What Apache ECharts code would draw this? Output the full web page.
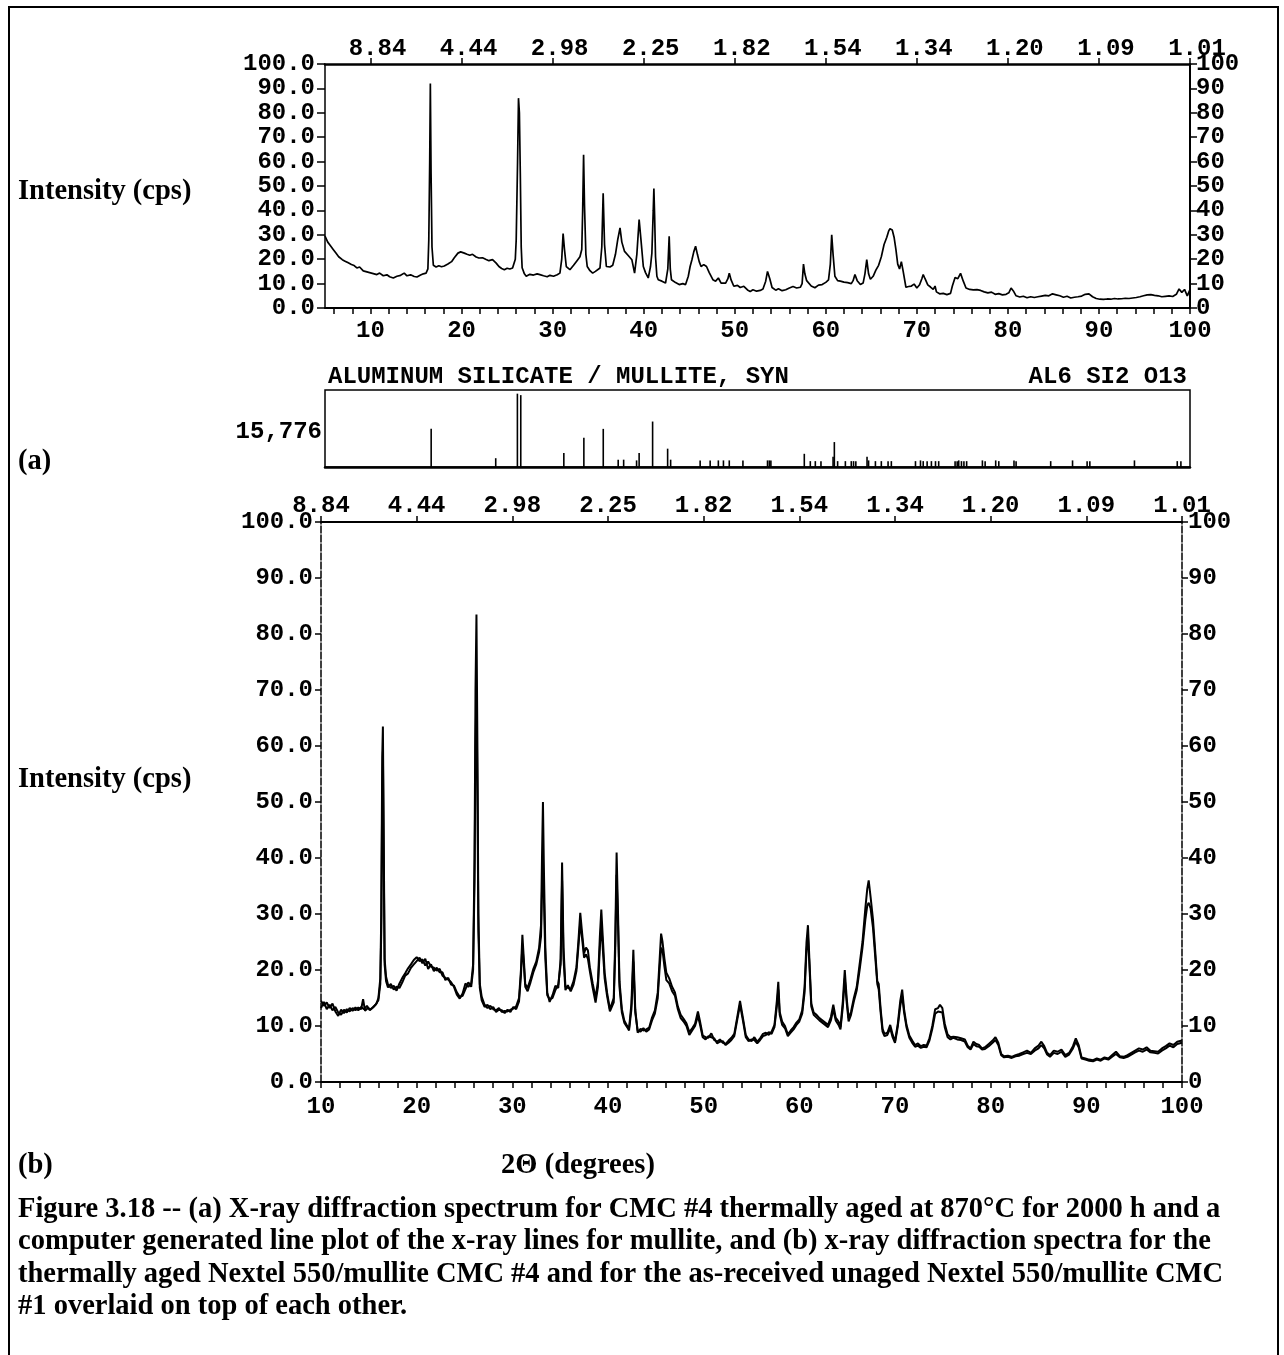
<!DOCTYPE html>
<html><head><meta charset="utf-8">
<script src="https://cdn.jsdelivr.net/npm/echarts@6/dist/echarts.min.js"></script>
<style>html,body{margin:0;padding:0;background:#fff}#c{width:1284px;height:1355px}</style>
</head><body><div id="c"></div>
<script>
// ---- tick labels ----
var majorX = [10,20,30,40,50,60,70,80,90,100];
var dLabels = ['8.84','4.44','2.98','2.25','1.82','1.54','1.34','1.20','1.09','1.01'];
var minorTopX = [6,8,10,12,14,16,18,20,22,24,26,28,30,32,34,36,38,40,42,44,46,48,50,52,54,56,58,60,62,64,66,68,70,72,74,76,78,80,82,84,86,88,90,92,94,96,98,100];
var minorBotX = [10,12,14,16,18,20,22,24,26,28,30,32,34,36,38,40,42,44,46,48,50,52,54,56,58,60,62,64,66,68,70,72,74,76,78,80,82,84,86,88,90,92,94,96,98,100];

// ---- (a) spectrum, CMC #4 aged ----
var specA = [[5.0,29.5],[5.3,27],[5.6,25.5],[5.9,24],[6.2,22.5],[6.5,21],[6.9,19.8],[7.2,19.2],[7.5,18.6],[7.9,17.8],[8.2,17.4],[8.5,16.4],[8.8,16.8],[9.2,15.2],[9.6,14.8],[10.0,14.4],[10.4,14.0],[10.7,13.7],[11.0,14.3],[11.4,13.2],[11.8,13.6],[12.1,12.8],[12.5,12.3],[12.9,13.0],[13.3,13.4],[13.7,14.3],[14.0,13.2],[14.4,13.6],[14.8,12.9],[15.1,12.7],[15.5,13.5],[15.8,14.0],[16.1,14.3],[16.3,16],[16.4,28],[16.5,60],[16.57,92],[16.65,55],[16.75,25],[16.9,17.5],[17.2,16.8],[17.5,17.3],[17.8,16.9],[18.1,17.2],[18.5,18.0],[18.9,19.0],[19.2,20.6],[19.6,22.5],[19.9,23.0],[20.3,22.5],[20.6,22.0],[20.9,21.6],[21.2,22.0],[21.6,20.9],[21.9,20.5],[22.3,20.6],[22.7,19.9],[23.0,19.4],[23.4,19.8],[23.8,18.4],[24.1,17.0],[24.4,16.2],[24.7,15.7],[25.0,16.3],[25.3,16.0],[25.6,16.4],[25.9,20],[26.0,28],[26.15,60],[26.25,86],[26.35,80],[26.45,55],[26.55,25],[26.65,16.5],[26.9,14.0],[27.1,13.0],[27.5,13.8],[27.9,13.5],[28.3,14.0],[28.6,13.7],[29.0,13.2],[29.4,12.8],[29.7,13.4],[30.1,13.0],[30.5,13.6],[30.8,14.3],[31.0,20],[31.15,30.5],[31.3,24],[31.5,17],[31.9,15.7],[32.3,17.5],[32.7,19.5],[33.0,21.0],[33.2,24],[33.3,40],[33.4,62.8],[33.5,42],[33.65,22],[33.8,17],[34.1,15.3],[34.4,14.3],[34.7,15.0],[34.9,15.7],[35.2,16.4],[35.4,25],[35.55,47],[35.7,26],[35.9,17],[36.3,16.8],[36.6,17.5],[36.9,22],[37.15,28],[37.4,32.8],[37.6,27],[37.9,23.2],[38.3,21.5],[38.7,19.8],[39.0,14.3],[39.25,22],[39.5,36.2],[39.7,28],[39.96,17],[40.2,14.5],[40.5,12.3],[40.75,17],[40.9,22.5],[41.05,40],[41.12,49],[41.2,38],[41.3,21],[41.45,13],[41.6,11.6],[42.0,11.0],[42.4,10.2],[42.65,16],[42.8,29.4],[42.92,16],[43.05,11.6],[43.5,10.4],[43.9,9.6],[44.3,10.0],[44.6,9.6],[44.9,13],[45.1,17],[45.3,19.8],[45.5,23],[45.7,25.3],[45.9,22],[46.1,19],[46.3,17],[46.6,17.8],[46.9,17],[47.2,14.5],[47.6,11.6],[47.9,11.0],[48.2,12.3],[48.5,10.2],[48.7,9.6],[49.0,10.2],[49.25,12],[49.4,14.3],[49.6,11.5],[49.9,8.9],[50.3,9.3],[50.6,8.4],[51.0,8.9],[51.4,7.4],[51.7,6.8],[52.0,7.5],[52.4,6.9],[52.8,7.2],[53.1,7.8],[53.4,11],[53.6,15],[53.85,12],[54.1,8.4],[54.5,7.3],[54.8,7.9],[55.2,7.1],[55.6,7.5],[56.0,8.2],[56.4,8.8],[56.8,8.2],[57.2,8.5],[57.4,10],[57.55,18],[57.7,14],[57.9,11.2],[58.1,12],[58.4,9.0],[58.8,8.3],[59.2,9.4],[59.6,9.6],[60.0,10.5],[60.3,11.5],[60.5,18],[60.65,30],[60.8,22],[61.0,13],[61.3,11.2],[61.6,11.0],[62.0,10.6],[62.4,10.4],[62.8,10.0],[63.0,11.2],[63.2,13.7],[63.45,11.2],[63.8,9.6],[64.1,10.2],[64.3,14],[64.5,19.8],[64.7,14],[64.9,11.8],[65.2,13],[65.5,15.5],[65.8,17.5],[66.1,21],[66.4,26],[66.7,29],[66.9,31.5],[67.05,32.5],[67.3,32],[67.5,29],[67.7,24],[67.9,18],[68.1,16],[68.3,19],[68.5,15],[68.8,8.5],[69.1,8.8],[69.4,9.0],[69.7,9.8],[70.0,8.2],[70.3,9.5],[70.55,12],[70.7,13.7],[70.9,12],[71.2,9.5],[71.5,8.6],[71.8,7.6],[72.0,9.0],[72.15,6.6],[72.5,5.8],[72.9,6.0],[73.3,5.5],[73.7,6.0],[73.9,9],[74.2,12.5],[74.5,12.0],[74.8,14.2],[75.1,11.0],[75.4,8.2],[75.8,7.6],[76.2,7.4],[76.6,7.5],[77.0,7.2],[77.4,6.6],[77.8,6.2],[78.2,6.5],[78.6,5.6],[79.0,5.9],[79.4,5.4],[79.8,5.6],[80.1,6.2],[80.35,8.2],[80.6,7.0],[80.9,5.0],[81.3,4.5],[81.7,4.8],[82.1,4.2],[82.5,4.6],[82.9,4.3],[83.3,4.6],[83.7,4.9],[84.1,5.2],[84.5,5.0],[84.9,5.8],[85.3,5.4],[85.7,5.0],[86.1,4.4],[86.5,4.8],[86.9,4.1],[87.3,4.4],[87.7,4.6],[88.1,4.9],[88.5,5.6],[88.9,5.8],[89.3,4.6],[89.7,3.9],[90.1,3.6],[90.5,3.5],[90.9,3.7],[91.3,3.6],[91.7,3.9],[92.1,3.7],[92.5,3.8],[92.9,4.0],[93.3,3.9],[93.7,4.1],[94.1,4.3],[94.5,4.6],[94.9,5.0],[95.3,5.4],[95.7,5.5],[96.1,5.2],[96.5,5.0],[96.9,4.6],[97.3,4.8],[97.7,5.0],[98.1,4.7],[98.5,5.6],[98.8,7.8],[99.1,6.4],[99.4,7.6],[99.7,5.0],[100.0,7.5]];

// ---- mullite reference line pattern ----
var stickPos = [16.66,23.75,26.13,26.5,31.23,33.43,35.56,37.2,37.8,39.22,39.5,40.98,42.63,42.96,46.2,47.3,48.2,48.76,49.4,50.9,53.6,53.8,53.97,57.64,58.3,58.85,59.47,60.8,60.94,61.3,62.15,62.8,63.05,63.3,64.53,64.7,65.45,66.1,66.84,67.2,69.85,70.4,70.7,71.13,71.6,72.05,72.4,74.2,74.43,74.6,74.9,75.17,75.47,77.2,77.5,78.66,79.0,80.67,80.9,84.7,87.1,88.7,89.0,93.9,98.6,99.0];
var stickH = [52,12,100,98,19,40,52,10,10,9,19,62,25,10,9,9,9,9,9,9,9,9,9,18,8,8,8,14,34,8,8,8,8,8,14,9,8,8,8,8,8,9,8,8,8,8,8,8,8,9,8,8,8,9,8,9,8,9,8,8,9,8,8,9,8,8];

// ---- (b) spectra: aged CMC #4 and as-received CMC #1 ----
var specB4 = [[10.0,14.5],[10.3,13.6],[10.6,14.2],[10.9,13.2],[11.2,14.0],[11.5,12.6],[11.8,11.8],[12.1,12.9],[12.4,12.3],[12.7,13.0],[13.0,12.6],[13.3,13.2],[13.6,12.8],[13.9,13.3],[14.2,13.0],[14.4,14.8],[14.6,12.7],[14.9,13.2],[15.2,13.0],[15.5,13.4],[15.8,14.0],[16.0,15.0],[16.2,18.5],[16.3,30],[16.4,58],[16.47,63.5],[16.55,45],[16.65,22],[16.8,18.8],[17.0,17.4],[17.3,16.8],[17.6,17.2],[17.9,16.3],[18.2,17.6],[18.5,18.6],[18.8,19.4],[19.1,20.3],[19.4,21.0],[19.7,21.8],[20.0,22.3],[20.3,21.6],[20.6,21.9],[20.9,20.8],[21.2,21.5],[21.5,20.6],[21.8,20.4],[22.1,19.9],[22.4,20.2],[22.7,19.0],[23.0,18.6],[23.3,18.3],[23.6,17.8],[23.9,17.0],[24.2,15.6],[24.5,14.9],[24.8,15.8],[25.1,17.6],[25.4,17.0],[25.7,17.6],[25.9,21],[26.05,40],[26.15,70],[26.25,83.5],[26.35,60],[26.45,30],[26.6,17.5],[26.8,15.2],[27.1,13.8],[27.4,13.2],[27.7,13.6],[28.0,13.0],[28.3,12.8],[28.6,13.2],[28.9,12.5],[29.2,12.7],[29.5,12.6],[29.8,12.9],[30.1,13.1],[30.4,13.5],[30.7,15.0],[30.9,20],[31.05,26.3],[31.2,22],[31.35,17.5],[31.6,16.8],[31.9,18.4],[32.2,20.2],[32.5,21.5],[32.8,24.0],[33.0,28],[33.1,40],[33.2,50],[33.3,38],[33.45,24],[33.65,16],[33.9,14.3],[34.2,15.5],[34.5,17.2],[34.8,16.8],[35.05,22],[35.2,39.2],[35.35,24],[35.55,17.0],[35.8,16.8],[36.1,16.6],[36.4,18.0],[36.7,20.5],[36.9,25],[37.1,30.2],[37.3,26.5],[37.5,23.0],[37.7,24.0],[37.9,23.5],[38.1,20.5],[38.4,17.6],[38.7,15.0],[38.95,18],[39.15,26],[39.3,30.8],[39.45,26],[39.65,19.5],[39.9,16],[40.2,13],[40.4,12.8],[40.6,15],[40.75,25],[40.9,41],[41.05,30],[41.2,18],[41.45,13],[41.7,11],[42.0,10],[42.2,9.6],[42.45,14],[42.65,23.6],[42.85,13],[43.1,8.8],[43.4,9.5],[43.7,9.2],[44.0,9.4],[44.3,9.7],[44.6,11.5],[44.9,12.8],[45.2,16],[45.4,22],[45.55,26.5],[45.7,25],[45.9,22],[46.1,19.5],[46.4,18.5],[46.7,17.0],[47.0,16.0],[47.3,13.5],[47.6,12.0],[47.9,11.3],[48.2,10.5],[48.5,8.9],[48.8,9.6],[49.1,10.4],[49.4,12.6],[49.6,11],[49.9,8.3],[50.2,8.0],[50.5,7.9],[50.8,8.7],[51.1,7.5],[51.4,7.2],[51.7,7.6],[52.0,7.0],[52.3,6.8],[52.6,7.4],[52.9,7.9],[53.2,8.6],[53.5,11.5],[53.8,14.5],[54.1,11.5],[54.4,8.4],[54.7,7.6],[55.0,7.3],[55.3,8.0],[55.6,7.2],[55.9,7.8],[56.2,8.6],[56.5,8.8],[56.8,8.4],[57.1,9.0],[57.4,10.2],[57.65,14.5],[57.8,17.9],[57.95,12.5],[58.2,10.8],[58.5,10.0],[58.8,8.5],[59.1,9.2],[59.4,9.8],[59.7,10.6],[60.0,11.2],[60.3,12.8],[60.55,17],[60.75,25],[60.9,28],[61.05,22],[61.25,14],[61.5,12.4],[61.8,12.0],[62.1,11.4],[62.4,11.0],[62.7,10.6],[63.0,10.2],[63.3,11.6],[63.55,13.8],[63.8,11.5],[64.1,10.8],[64.3,9.8],[64.55,14.5],[64.75,20],[64.95,15],[65.15,11.4],[65.4,12.5],[65.7,15.0],[66.0,17.0],[66.3,21],[66.6,25],[66.9,31],[67.1,34.5],[67.25,36],[67.45,33],[67.7,29],[67.95,23],[68.15,18],[68.3,17.5],[68.5,13],[68.7,9.5],[68.9,8.6],[69.2,8.8],[69.5,10.2],[69.75,8.5],[70.0,7.2],[70.3,10.5],[70.55,14.5],[70.75,16.5],[70.95,13],[71.2,10.2],[71.5,8.3],[71.8,7.4],[72.1,6.6],[72.4,6.9],[72.7,6.4],[73.0,6.6],[73.3,6.5],[73.6,7.8],[73.9,10.0],[74.2,13.0],[74.5,13.2],[74.7,13.8],[74.95,13.2],[75.2,10.4],[75.5,8.5],[75.8,8.0],[76.1,8.1],[76.5,8.0],[76.9,7.8],[77.3,7.6],[77.6,6.5],[77.9,6.0],[78.2,7.2],[78.5,6.8],[78.8,6.6],[79.1,6.0],[79.4,6.2],[79.8,6.8],[80.2,7.4],[80.5,8.0],[80.8,7.0],[81.1,5.0],[81.4,4.6],[81.8,4.7],[82.2,4.5],[82.6,4.8],[83.0,5.0],[83.4,5.3],[83.8,5.6],[84.2,5.2],[84.6,6.0],[85.0,6.5],[85.3,7.2],[85.6,6.4],[85.9,5.2],[86.2,4.8],[86.6,5.6],[87.0,5.4],[87.4,5.8],[87.8,4.8],[88.2,5.2],[88.6,6.4],[88.9,7.8],[89.2,6.6],[89.5,4.4],[89.9,4.2],[90.3,4.0],[90.7,3.9],[91.1,4.2],[91.5,4.0],[91.9,4.4],[92.3,4.2],[92.7,4.8],[93.1,5.4],[93.5,4.6],[93.9,4.5],[94.3,4.8],[94.7,5.2],[95.1,5.6],[95.5,6.0],[95.9,5.8],[96.3,6.2],[96.7,5.6],[97.1,5.5],[97.5,5.4],[97.9,6.0],[98.3,6.4],[98.7,6.9],[99.1,6.6],[99.5,7.2],[100.0,7.4]];
var specB1 = [[10.0,13.2],[10.3,14.3],[10.6,13.0],[10.9,13.8],[11.2,12.8],[11.5,13.4],[11.8,12.4],[12.1,12.0],[12.4,12.9],[12.7,12.4],[13.0,13.2],[13.3,12.7],[13.6,13.3],[13.9,12.8],[14.2,13.4],[14.5,13.0],[14.8,13.6],[15.1,12.8],[15.4,13.3],[15.7,13.8],[16.0,14.6],[16.2,17.5],[16.3,27],[16.4,52],[16.47,59],[16.55,41],[16.65,21],[16.8,18.0],[17.0,16.9],[17.3,17.5],[17.6,16.5],[17.9,17.0],[18.2,16.8],[18.5,17.8],[18.8,19.0],[19.1,19.4],[19.4,20.4],[19.7,21.0],[20.0,21.6],[20.3,22.2],[20.6,21.2],[20.9,22.0],[21.2,20.2],[21.5,21.0],[21.8,19.8],[22.1,20.4],[22.4,19.6],[22.7,19.6],[23.0,18.2],[23.3,18.6],[23.6,17.4],[23.9,17.2],[24.2,16.0],[24.5,15.2],[24.8,15.4],[25.1,16.6],[25.4,17.8],[25.7,17.0],[25.9,20],[26.05,36],[26.15,60],[26.25,70],[26.35,52],[26.45,27],[26.6,16.8],[26.8,14.6],[27.1,13.4],[27.4,13.8],[27.7,13.0],[28.0,13.4],[28.3,12.5],[28.6,12.9],[28.9,12.8],[29.2,12.3],[29.5,12.9],[29.8,12.5],[30.1,13.4],[30.4,13.0],[30.7,14.4],[30.9,19],[31.05,24.5],[31.2,21],[31.35,17],[31.6,16.2],[31.9,17.8],[32.2,19.6],[32.5,21.0],[32.8,23.2],[33.0,26],[33.1,34],[33.2,40],[33.3,33],[33.45,22],[33.65,15.5],[33.9,14.8],[34.2,15.0],[34.5,16.4],[34.8,17.4],[35.05,21],[35.2,36],[35.35,22],[35.55,16.4],[35.8,17.3],[36.1,16.2],[36.4,17.4],[36.7,19.8],[36.9,24],[37.1,28.5],[37.3,25.5],[37.5,22.2],[37.7,22.8],[37.9,22.0],[38.1,19.8],[38.4,16.8],[38.7,14.2],[38.95,17],[39.15,24],[39.3,28.5],[39.45,24],[39.65,18.5],[39.9,15.4],[40.2,12.6],[40.4,12.4],[40.6,14.2],[40.75,23],[40.9,37],[41.05,28],[41.2,17],[41.45,12.4],[41.7,10.6],[42.0,9.8],[42.2,9.2],[42.45,13],[42.65,21.5],[42.85,12.4],[43.1,9.2],[43.4,9.0],[43.7,9.6],[44.0,9.0],[44.3,9.4],[44.6,11.0],[44.9,12.2],[45.2,15],[45.4,20.5],[45.55,24],[45.7,23.5],[45.9,20.6],[46.1,18.2],[46.4,17.6],[46.7,16.2],[47.0,15.4],[47.3,13.0],[47.6,11.4],[47.9,10.8],[48.2,10.0],[48.5,8.4],[48.8,9.2],[49.1,10.0],[49.4,11.8],[49.6,10.4],[49.9,8.0],[50.2,7.6],[50.5,8.2],[50.8,8.0],[51.1,7.8],[51.4,6.9],[51.7,7.2],[52.0,7.3],[52.3,6.6],[52.6,7.0],[52.9,7.5],[53.2,8.2],[53.5,11.0],[53.8,13.8],[54.1,11.0],[54.4,8.0],[54.7,7.3],[55.0,7.6],[55.3,7.5],[55.6,6.9],[55.9,7.5],[56.2,8.2],[56.5,8.4],[56.8,8.9],[57.1,8.6],[57.4,9.8],[57.65,13.5],[57.8,16.5],[57.95,12.0],[58.2,10.2],[58.5,9.6],[58.8,8.2],[59.1,8.8],[59.4,9.4],[59.7,10.2],[60.0,10.8],[60.3,12.2],[60.55,16],[60.75,23.5],[60.9,26],[61.05,21],[61.25,13.5],[61.5,12.0],[61.8,11.5],[62.1,11.0],[62.4,10.6],[62.7,10.2],[63.0,9.8],[63.3,11.0],[63.55,13.0],[63.8,11.0],[64.1,10.2],[64.3,9.4],[64.55,13.5],[64.75,18.5],[64.95,14.2],[65.15,10.8],[65.4,12.0],[65.7,14.4],[66.0,16.4],[66.3,20],[66.6,24],[66.9,29],[67.1,31.5],[67.25,32],[67.45,31],[67.7,27.5],[67.95,22],[68.15,17.5],[68.3,16.5],[68.5,12.4],[68.7,9.0],[68.9,8.2],[69.2,8.4],[69.5,9.6],[69.75,8.0],[70.0,7.0],[70.3,10.0],[70.55,13.6],[70.75,15.4],[70.95,12.4],[71.2,9.8],[71.5,7.9],[71.8,7.0],[72.1,6.3],[72.4,6.5],[72.7,6.1],[73.0,6.3],[73.3,6.2],[73.6,7.4],[73.9,9.5],[74.2,12.2],[74.5,12.6],[74.7,12.8],[74.95,12.4],[75.2,9.8],[75.5,8.0],[75.8,7.6],[76.1,7.9],[76.5,7.6],[76.9,7.5],[77.3,7.2],[77.6,6.2],[77.9,5.8],[78.2,6.8],[78.5,6.4],[78.8,6.3],[79.1,5.8],[79.4,5.9],[79.8,6.4],[80.2,7.0],[80.5,7.5],[80.8,6.6],[81.1,4.8],[81.4,4.4],[81.8,4.5],[82.2,4.3],[82.6,4.6],[83.0,4.7],[83.4,5.0],[83.8,5.2],[84.2,5.0],[84.6,5.6],[85.0,6.0],[85.3,6.6],[85.6,6.0],[85.9,4.9],[86.2,4.5],[86.6,5.2],[87.0,5.0],[87.4,5.4],[87.8,4.5],[88.2,4.9],[88.6,6.0],[88.9,7.2],[89.2,6.2],[89.5,4.2],[89.9,4.0],[90.3,3.8],[90.7,3.7],[91.1,4.0],[91.5,3.8],[91.9,4.2],[92.3,4.0],[92.7,4.5],[93.1,5.0],[93.5,4.4],[93.9,4.3],[94.3,4.5],[94.7,4.9],[95.1,5.3],[95.5,5.6],[95.9,5.4],[96.3,5.8],[96.7,5.3],[97.1,5.2],[97.5,5.1],[97.9,5.6],[98.3,6.0],[98.7,6.5],[99.1,6.2],[99.5,6.8],[100.0,7.0]];

var MONO = '"Liberation Mono", "DejaVu Sans Mono", monospace';
var SERIF = '"Liberation Serif", "DejaVu Serif", serif';
var lab = {fontFamily: MONO, fontWeight: 'bold', fontSize: 24, color: '#000'};
function L(extra){ var o = {}; for (var k in lab) o[k]=lab[k]; for (var k2 in extra) o[k2]=extra[k2]; return o; }
var solid = {show:true, onZero:false, lineStyle:{color:'#000', width:2}};
var dashed = {show:true, onZero:false, lineStyle:{color:'#000', width:1.5, type:[7,2]}};

var chart = echarts.init(document.getElementById('c'), null, {renderer:'canvas'});
var option = {
  animation: false,
  backgroundColor: '#fff',
  grid: [
    {left:325, top:64, width:865, height:244},
    {left:325, top:390, width:865, height:77, show:true, borderColor:'#000', borderWidth:1.5},
    {left:321, top:522, width:861, height:560}
  ],
  xAxis: [
    {gridIndex:0, type:'value', min:5, max:100, position:'bottom', axisLine:solid, splitLine:{show:false},
     axisTick:{show:true, length:6, customValues:minorTopX, lineStyle:{color:'#000', width:1.5}},
     axisLabel:L({customValues:majorX, margin:11})},
    {gridIndex:0, type:'value', min:5, max:100, position:'top', axisLine:{show:true,onZero:false,lineStyle:{color:'#000',width:2.5}}, splitLine:{show:false},
     axisTick:{show:true, length:6, customValues:majorX, lineStyle:{color:'#000', width:1.5}},
     axisLabel:L({customValues:majorX, margin:3, padding:[0,0,0,14], formatter:function(v){return dLabels[majorX.indexOf(v)];}})},
    {gridIndex:1, type:'value', min:5, max:100, axisLine:{show:true,onZero:false,lineStyle:{color:'#000',width:2.5}}, axisTick:{show:false}, axisLabel:{show:false}, splitLine:{show:false}},
    {gridIndex:2, type:'value', min:10, max:100, position:'bottom', axisLine:solid, splitLine:{show:false},
     axisTick:{show:true, length:6, customValues:minorBotX, lineStyle:{color:'#000', width:1.5}},
     axisLabel:L({customValues:majorX, margin:13})},
    {gridIndex:2, type:'value', min:10, max:100, position:'top', axisLine:solid, splitLine:{show:false},
     axisTick:{show:true, length:6, customValues:majorX, lineStyle:{color:'#000', width:1.5}},
     axisLabel:L({customValues:majorX, margin:4, formatter:function(v){return dLabels[majorX.indexOf(v)];}})}
  ],
  yAxis: [
    {gridIndex:0, type:'value', min:0, max:100, interval:10, position:'left', axisLine:{show:true,onZero:false,lineStyle:{color:'#000',width:1.5}}, splitLine:{show:false},
     axisTick:{show:true, length:8, lineStyle:{color:'#000', width:1.5}},
     axisLabel:L({margin:10, formatter:function(v){return v.toFixed(1);}})},
    {gridIndex:0, type:'value', min:0, max:100, interval:10, position:'right', axisLine:{show:true,onZero:false,lineStyle:{color:'#000',width:2}}, splitLine:{show:false},
     axisTick:{show:true, length:7, lineStyle:{color:'#000', width:1.5}},
     axisLabel:L({margin:6, formatter:function(v){return String(v);}})},
    {gridIndex:1, type:'value', min:0, max:105, show:false, splitLine:{show:false}},
    {gridIndex:2, type:'value', min:0, max:100, interval:10, position:'left', axisLine:dashed, splitLine:{show:false},
     axisTick:{show:true, length:6, lineStyle:{color:'#000', width:1.5}},
     axisLabel:L({margin:8, formatter:function(v){return v.toFixed(1);}})},
    {gridIndex:2, type:'value', min:0, max:100, interval:10, position:'right', axisLine:dashed, splitLine:{show:false},
     axisTick:{show:true, length:6, lineStyle:{color:'#000', width:1.5}},
     axisLabel:L({margin:6, formatter:function(v){return String(v);}})}
  ],
  series: [
    {name:'CMC #4 aged (a)', type:'line', xAxisIndex:0, yAxisIndex:0, data:specA, showSymbol:false, symbol:'none',
     lineStyle:{color:'#000', width:1.7}, z:3},
    {name:'Mullite lines', type:'custom', xAxisIndex:2, yAxisIndex:2,
     data: stickPos.map(function(p,i){return [p, stickH[i]];}),
     encode:{x:0, y:1},
     renderItem:function(params, api){
       var a = api.coord([api.value(0), 0]);
       var b = api.coord([api.value(0), api.value(1)]);
       return {type:'line', shape:{x1:a[0], y1:a[1], x2:b[0], y2:b[1]}, style:{stroke:'#000', lineWidth:1.6}};
     }},
    {name:'CMC #1 as-received', type:'line', xAxisIndex:3, yAxisIndex:3, data:specB1, showSymbol:false, symbol:'none',
     lineStyle:{color:'#000', width:2}, z:3},
    {name:'CMC #4 aged (b)', type:'line', xAxisIndex:3, yAxisIndex:3, data:specB4, showSymbol:false, symbol:'none',
     lineStyle:{color:'#000', width:2}, z:4}
  ],
  graphic: [
    {type:'polyline', shape:{points:[[9,1355],[9,7],[1278,7],[1278,1355]]}, style:{stroke:'#000', lineWidth:2, fill:null}, silent:true},
    {type:'text', x:18, y:192, style:{text:'Intensity (cps)', font:'bold 28.5px ' + SERIF, fill:'#000', verticalAlign:'middle', align:'left'}},
    {type:'text', x:18, y:462, style:{text:'(a)', font:'bold 28.5px ' + SERIF, fill:'#000', verticalAlign:'middle', align:'left'}},
    {type:'text', x:18, y:780, style:{text:'Intensity (cps)', font:'bold 28.5px ' + SERIF, fill:'#000', verticalAlign:'middle', align:'left'}},
    {type:'text', x:18, y:1166, style:{text:'(b)', font:'bold 28.5px ' + SERIF, fill:'#000', verticalAlign:'middle', align:'left'}},
    {type:'text', x:578, y:1166, style:{text:'2\u0398 (degrees)', font:'bold 28.5px ' + SERIF, fill:'#000', verticalAlign:'middle', align:'center'}},
    {type:'text', x:328, y:377, style:{text:'ALUMINUM SILICATE / MULLITE, SYN', font:'bold 24px ' + MONO, fill:'#000', verticalAlign:'middle', align:'left'}},
    {type:'text', x:1187, y:377, style:{text:'AL6 SI2 O13', font:'bold 24px ' + MONO, fill:'#000', verticalAlign:'middle', align:'right'}},
    {type:'text', x:322, y:432, style:{text:'15,776', font:'bold 24px ' + MONO, fill:'#000', verticalAlign:'middle', align:'right'}},
    {type:'text', x:18, y:1193, style:{
      text:'Figure 3.18 -- (a) X-ray diffraction spectrum for CMC #4 thermally aged at 870\u00B0C for 2000 h and a\ncomputer generated line plot of the x-ray lines for mullite, and (b) x-ray diffraction spectra for the\nthermally aged Nextel 550/mullite CMC #4 and for the as-received unaged Nextel 550/mullite CMC\n#1 overlaid on top of each other.',
      font:'bold 28.5px ' + SERIF, lineHeight:32.5, fill:'#000', verticalAlign:'top', align:'left'}}
  ]
};
chart.setOption(option);
</script></body></html>
